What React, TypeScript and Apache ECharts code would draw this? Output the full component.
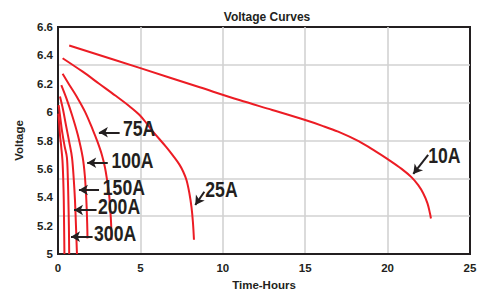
import React, { useEffect, useRef } from "react";
import * as echarts from "echarts";

// ---- axis ticks ----
const xTicks = [0, 5, 10, 15, 20, 25];
const yTicks = [5, 5.2, 5.4, 5.6, 5.8, 6, 6.2, 6.4, 6.6];
const gridDivisions = 6; // horizontal grid lines of the original image (not aligned to labels)

// ---- discharge curves: [hours, volts] ----
const c10A = [[0.68, 6.47], [5, 6.31], [8.6, 6.175], [11, 6.085], [13, 6.015], [15, 5.944], [16, 5.905], [17, 5.862], [18.24, 5.795], [19.25, 5.725], [20.05, 5.665], [20.85, 5.60], [21.46, 5.54], [21.86, 5.485], [22.16, 5.428], [22.42, 5.357], [22.57, 5.287], [22.63, 5.25]];
const c25A = [[0.28, 6.38], [1.5, 6.285], [2.5, 6.2], [3.5, 6.115], [4.35, 6.04], [4.95, 5.98], [5.45, 5.91], [5.75, 5.865], [6.56, 5.755], [7.0, 5.69], [7.37, 5.63], [7.6, 5.58], [7.8, 5.52], [7.97, 5.43], [8.1, 5.33], [8.19, 5.22], [8.25, 5.10]];
const c75A = [[0.28, 6.27], [0.7, 6.19], [1.13, 6.11], [1.65, 6.0], [2.13, 5.87], [2.4, 5.79], [2.66, 5.70], [2.85, 5.61], [2.98, 5.52], [3.1, 5.42], [3.16, 5.33], [3.22, 5.22], [3.25, 5.10]];
const c100A = [[0.2, 6.19], [0.5, 6.10], [0.85, 5.98], [1.2, 5.84], [1.5, 5.68], [1.63, 5.55], [1.72, 5.38], [1.77, 5.22], [1.79, 5.11]];
const c150A = [[0.12, 6.11], [0.3, 6.02], [0.48, 5.91], [0.68, 5.79], [0.85, 5.68], [0.96, 5.52], [1.03, 5.38], [1.09, 5.2], [1.15, 5.0]];
const c200A = [[0.04, 6.05], [0.14, 5.96], [0.24, 5.87], [0.4, 5.76], [0.54, 5.68], [0.6, 5.52], [0.63, 5.38], [0.66, 5.2], [0.68, 5.0]];
const c300A = [[0.02, 5.99], [0.07, 5.92], [0.12, 5.84], [0.2, 5.75], [0.27, 5.66], [0.32, 5.52], [0.35, 5.38], [0.37, 5.2], [0.39, 5.0]];

const curveNames = ["10A", "25A", "75A", "100A", "150A", "200A", "300A"];
const curves = [c10A, c25A, c75A, c100A, c150A, c200A, c300A];

// ---- annotation labels (left-middle anchor, data coords) ----
const labelNames = ["75A", "100A", "150A", "200A", "300A", "25A", "10A"];
const labelAnchors = [[3.94, 5.888], [3.24, 5.662], [2.72, 5.472], [2.43, 5.333], [2.19, 5.146], [8.94, 5.456], [22.46, 5.693]];
// ---- arrows: tail -> tip (data coords) ----
const arrowTails = [[3.74, 5.858], [3.02, 5.643], [2.49, 5.451], [2.34, 5.31], [2.10, 5.122], [8.88, 5.439], [22.46, 5.698]];
const arrowTips = [[2.48, 5.858], [1.77, 5.643], [1.27, 5.451], [0.97, 5.31], [0.79, 5.122], [8.33, 5.345], [21.56, 5.564]];

const FONT = '"Liberation Sans", Arial, Helvetica, sans-serif';
const RED = "#ec1c24";
const INK = "#231f20";

export default function App() {
  const ref = useRef<HTMLDivElement>(null);
  useEffect(() => {
    if (!ref.current) return;
    const chart = echarts.init(ref.current, undefined, { renderer: "svg" });
    const xMin = xTicks[0], xMax = xTicks[xTicks.length - 1];
    const yMin = yTicks[0], yMax = yTicks[yTicks.length - 1];
    chart.setOption({
      animation: false,
      backgroundColor: "#ffffff",
      title: {
        text: "Voltage Curves",
        left: 262,
        top: 6,
        textAlign: "center",
        textStyle: { fontFamily: FONT, fontSize: 12, fontWeight: "bold", color: INK },
      },
      grid: {
        left: 58, right: 20, top: 27, bottom: 36,
        outerBoundsMode: "none",
        containLabel: false,
        show: true, borderColor: INK, borderWidth: 2, backgroundColor: "transparent",
      },
      xAxis: {
        type: "value",
        min: xMin, max: xMax, interval: xTicks[1] - xTicks[0],
        name: "Time-Hours",
        nameLocation: "middle",
        nameGap: 22,
        nameTextStyle: { fontFamily: FONT, fontSize: 11.5, fontWeight: "bold", color: INK },
        axisLine: { show: true, lineStyle: { color: INK, width: 2 } },
        axisTick: { show: false },
        axisLabel: { fontFamily: FONT, fontSize: 11.5, fontWeight: "bold", color: INK, margin: 8 },
        splitLine: { show: true, showMinLine: false, showMaxLine: false, lineStyle: { color: "#d2d2d2", width: 1.6 } },
      },
      yAxis: [
        {
          type: "value",
          min: yMin, max: yMax, interval: 0.2,
          name: "Voltage",
          nameLocation: "middle",
          nameGap: 33,
          nameTextStyle: { fontFamily: FONT, fontSize: 11.5, fontWeight: "bold", color: INK },
          axisLine: { show: true, lineStyle: { color: INK, width: 2 } },
          axisTick: { show: false },
          axisLabel: { fontFamily: FONT, fontSize: 11.5, fontWeight: "bold", color: INK, margin: 5 },
          splitLine: { show: false },
        },
        {
          type: "value",
          min: 0, max: gridDivisions, interval: 1,
          position: "left",
          axisLine: { show: false },
          axisTick: { show: false },
          axisLabel: { show: false },
          splitLine: { show: true, showMinLine: false, showMaxLine: false, lineStyle: { color: "#d2d2d2", width: 1.6 } },
        },
      ],
      series: [
        ...curves.map((c, i) => ({
          name: curveNames[i],
          type: "line",
          data: c,
          smooth: 0.35,
          showSymbol: false,
          symbol: "none",
          lineStyle: { color: RED, width: 2 },
          z: 3,
        })),
        {
          name: "labels",
          type: "custom",
          coordinateSystem: "cartesian2d",
          data: labelAnchors,
          z: 5,
          renderItem: (params: any, api: any) => {
            const p = api.coord([api.value(0), api.value(1)]);
            return {
              type: "text",
              x: p[0],
              y: p[1],
              scaleX: 0.8,
              style: {
                text: labelNames[params.dataIndex],
                fontFamily: FONT,
                fontSize: 22,
                fontWeight: "bold",
                fill: INK,
                align: "left",
                verticalAlign: "middle",
              },
            };
          },
        },
        {
          name: "arrows",
          type: "scatter",
          symbolSize: 0,
          data: [],
          z: 4,
          markLine: {
            silent: true,
            animation: false,
            symbol: ["none", "arrow"],
            symbolSize: [8, 9],
            label: { show: false },
            lineStyle: { color: INK, width: 2, type: "solid", opacity: 1 },
            data: arrowTails.map((t, i) => [{ coord: t }, { coord: arrowTips[i] }]),
          },
        },
      ],
    });
    return () => chart.dispose();
  }, []);
  return <div ref={ref} style={{ position: "fixed", left: 0, top: 0, width: 490, height: 290 }} />;
}
